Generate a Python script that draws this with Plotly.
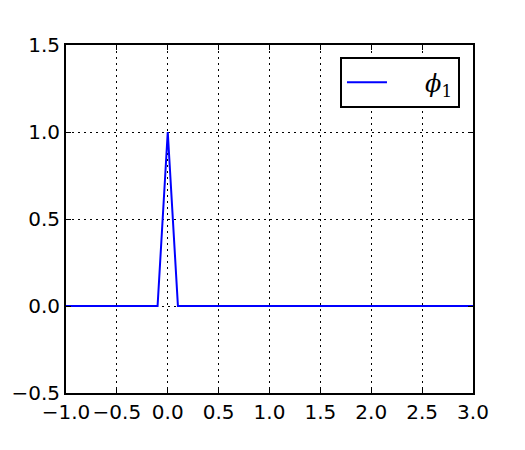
import plotly.graph_objects as go

# hat function phi_1
x_vals = [-1.0, -0.1, 0.0, 0.1, 3.0]
phi_1 = [0.0, 0.0, 1.0, 0.0, 0.0]

x_ticks = [-1.0, -0.5, 0.0, 0.5, 1.0, 1.5, 2.0, 2.5, 3.0]
y_ticks = [-0.5, 0.0, 0.5, 1.0, 1.5]
tick_text_x = ["\u22121.0", "\u22120.5", "0.0", "0.5", "1.0", "1.5", "2.0", "2.5", "3.0"]
tick_text_y = ["\u22120.5", "0.0", "0.5", "1.0", "1.5"]

fig = go.Figure()
fig.add_trace(go.Scatter(
    x=x_vals, y=phi_1, mode="lines",
    line=dict(color="#0000ff", width=2),
    name="&nbsp;&nbsp;&nbsp;&nbsp;<span style='font-size:24px'><i>\u03d5</i><sub>1</sub></span>",
))

axis_style = dict(
    showline=True, linecolor="black", linewidth=2, mirror="allticks",
    ticks="inside", ticklen=5, tickcolor="black", tickwidth=1,
    showgrid=True, gridcolor="black", gridwidth=1, griddash="2px,4px",
    zeroline=False, automargin=False, tickangle=0,
    tickfont=dict(family="DejaVu Sans", size=20, color="black"),
)

fig.update_xaxes(range=[-1, 3], tickvals=x_ticks, ticktext=tick_text_x, **axis_style)
fig.update_yaxes(range=[-0.5, 1.5], tickvals=y_ticks, ticktext=tick_text_y, **axis_style)

# the page puts the figure 8px in from the top-left corner
fig.update_layout(
    width=525, height=450,
    margin=dict(l=58, r=60, t=37, b=65),
    plot_bgcolor="white", paper_bgcolor="white",
    showlegend=True,
    legend=dict(
        x=0.968, y=0.966, xanchor="right", yanchor="top",
        bgcolor="white", bordercolor="black", borderwidth=2,
        font=dict(family="DejaVu Serif", size=26, color="black"),
        itemwidth=40,
    ),
)

fig.write_html("out.html")
